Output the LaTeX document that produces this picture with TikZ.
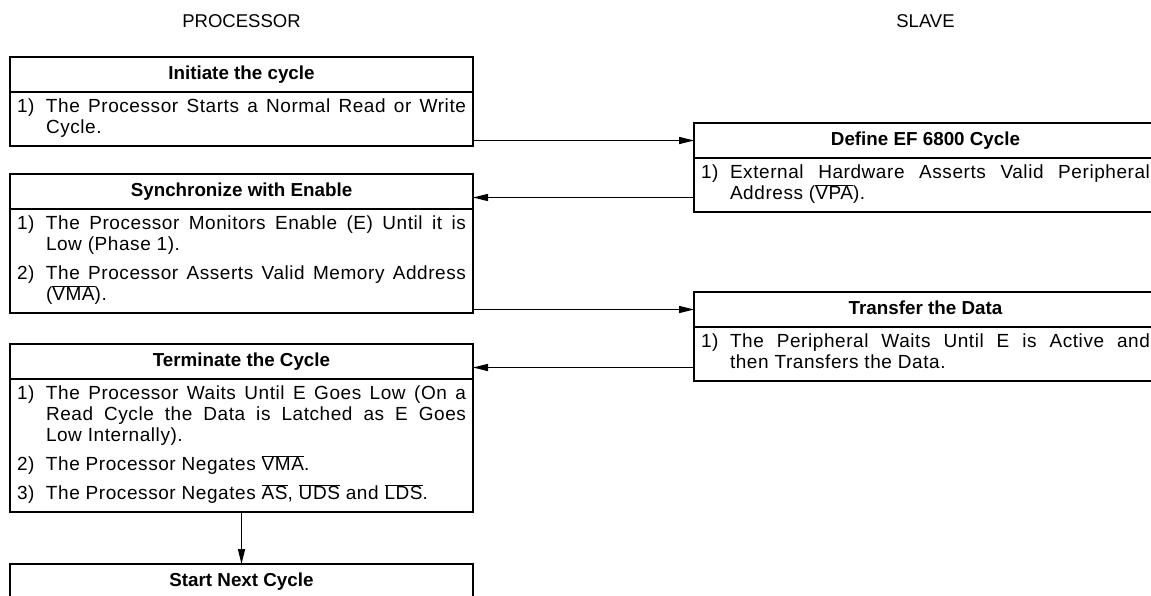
\documentclass[tikz,border=0pt]{standalone}
\usepackage{fontspec}
\setmainfont{Liberation Sans}
\newfontfamily\bodyfont[LetterSpace=3]{Liberation Sans}
\usetikzlibrary{arrows.meta}
\usetikzlibrary{positioning}
\newcommand{\bodytext}{\bodyfont\fontsize{19pt}{21pt}\selectfont\parskip=8pt}
\newcommand{\itm}[2]{\hangindent=29pt\hangafter=1\noindent\strut\makebox[29pt][l]{#1}#2\strut\par}
\newcommand{\ovl}[1]{\smash{$\overline{\mbox{#1}}$}}

\begin{document}
\begin{tikzpicture}[x=1pt,y=-1pt,line width=1.4pt,
    colhead/.style={font=\fontsize{18.5pt}{21pt}\selectfont},
    head/.style={draw,anchor=north west,outer sep=0pt,inner sep=0pt,minimum width=463pt,minimum height=35pt,
        text height=13.5pt,text depth=4pt,font=\bfseries\fontsize{18.8pt}{21pt}\selectfont},
    body/.style={draw,below=0pt of #1,outer sep=0pt,text width=449pt,inner xsep=7pt,inner ysep=6pt,
        align=justify,font=\bodytext},
    arr/.style={-{Triangle[length=15pt,width=7pt]}}]
	\useasboundingbox (0,0) rectangle (1151,595);

	\node[colhead] (proclabel) at (241.5,21) {PROCESSOR};
	\node[colhead] (slavelabel) at (925.5,21) {SLAVE};

	\node[head] (inithead) at (10,57) {Initiate the cycle};
	\node[body=inithead] (initbody) {\itm{1)}{The Processor Starts a Normal Read or Write\linebreak Cycle.}};

	\node[head] (defhead) at (694,123) {Define EF 6800 Cycle};
	\node[body=defhead] (defbody) {\itm{1)}{External Hardware Asserts Valid Peripheral\linebreak Address (\ovl{VPA}).}};

	\node[head] (synchead) at (10,174) {Synchronize with Enable};
	\node[body=synchead] (syncbody) {\itm{1)}{The Processor Monitors Enable (E) Until it is\linebreak Low (Phase 1).}
		\itm{2)}{The Processor Asserts Valid Memory Address\linebreak (\ovl{VMA}).}};

	\node[head] (transhead) at (694,292) {Transfer the Data};
	\node[body=transhead] (transbody) {\itm{1)}{The Peripheral Waits Until E is Active and\linebreak then Transfers the Data.}};

	\node[head] (termhead) at (10,344) {Terminate the Cycle};
	\node[body=termhead] (termbody) {\itm{1)}{The Processor Waits Until E Goes Low (On a\linebreak Read Cycle the Data is Latched as E Goes\linebreak Low Internally).}
		\itm{2)}{The Processor Negates \ovl{VMA}.}
		\itm{3)}{The Processor Negates \ovl{AS}, \ovl{UDS} and \ovl{LDS}.}};

	\node[head] (nexthead) at (10,564) {Start Next Cycle};

	\coordinate (syncin) at ([yshift=-6pt]synchead.east);
	\coordinate (termin) at ([yshift=-6pt]termhead.east);
	\draw[arr] (initbody.east |- defhead.west) -- (defhead.west);
	\draw[arr] (defbody.west |- syncin) -- (syncin);
	\draw[arr] (syncbody.east |- transhead.west) -- (transhead.west);
	\draw[arr] (transbody.west |- termin) -- (termin);
	\draw[arr] (termbody.south) -- (nexthead.north);
\end{tikzpicture}
\end{document}
